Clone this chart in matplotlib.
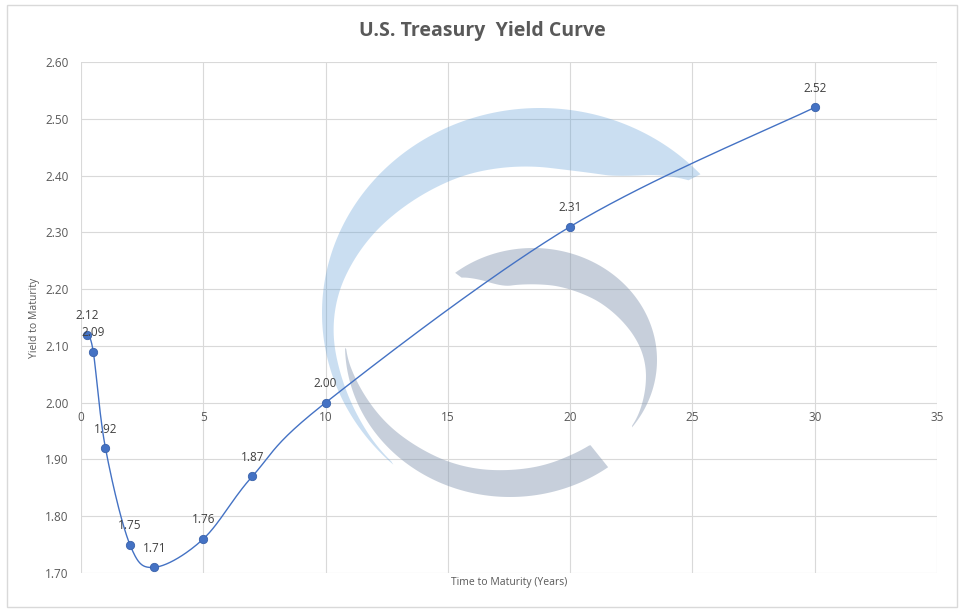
import numpy as np
import matplotlib
matplotlib.use('Agg')
import matplotlib.pyplot as plt
from matplotlib.patches import Polygon, Rectangle

plt.rcParams['font.family'] = ['Open Sans', 'DejaVu Sans']

# data
maturity = [0.25, 0.5, 1, 2, 3, 5, 7, 10, 20, 30]
yields = [2.12, 2.09, 1.92, 1.75, 1.71, 1.76, 1.87, 2.00, 2.31, 2.52]
x_ticks = [0, 5, 10, 15, 20, 25, 30, 35]
y_ticks = [1.70, 1.80, 1.90, 2.00, 2.10, 2.20, 2.30, 2.40, 2.50, 2.60]

W, H = 965, 613
blue = '#4472c4'
txt = '#595959'
grid = '#d9d9d9'


def smooth(ax, xs, ys, n=40):
    # excel-like bezier smoothing, done in screen space
    pts = ax.transData.transform(np.column_stack([xs, ys]))
    p = np.vstack([pts[0], pts, pts[-1]])
    t = np.linspace(0, 1, n)[:, None]
    segs = []
    for i in range(1, len(p) - 2):
        p0, p1, p2, p3 = p[i - 1], p[i], p[i + 1], p[i + 2]
        c1 = p1 + (p2 - p0) / 6
        c2 = p2 - (p3 - p1) / 6
        segs.append((1 - t) ** 3 * p1 + 3 * (1 - t) ** 2 * t * c1
                    + 3 * (1 - t) * t ** 2 * c2 + t ** 3 * p2)
    return ax.transData.inverted().transform(np.vstack(segs))


def crescent(cx, cy, rx, ry, angs, thick):
    # watermark piece, pixel coords (y down) -> figure fraction
    a = np.linspace(min(angs), max(angs), 200)
    order = np.argsort(angs)
    xp = np.array(angs)[order]
    fp = np.array(thick)[order]
    th = np.interp(a, xp, fp)
    k = 12
    th = np.convolve(np.pad(th, k, mode='edge'), np.ones(2 * k + 1) / (2 * k + 1), 'same')[k:-k]
    th[0] = fp[0]
    th[-1] = fp[-1]
    r = np.radians(a)
    outer = np.column_stack([cx + rx * np.cos(r), cy - ry * np.sin(r)])
    s = 1 - th
    inner = np.column_stack([cx + rx * s * np.cos(r), cy - ry * s * np.sin(r)])
    pts = np.vstack([outer, inner[::-1]])
    return np.column_stack([pts[:, 0] / W, 1 - pts[:, 1] / H])


fig = plt.figure(figsize=(W / 100, H / 100), dpi=100)
fig.patches.append(Rectangle((7 / W, 1 - 607 / H), 950 / W, 602 / H,
                             transform=fig.transFigure, fill=False,
                             edgecolor=grid, lw=1))

ax = fig.add_axes([81 / W, 1 - 573 / H, 856 / W, 511 / H])
ax.set_xlim(0, 35)
ax.set_ylim(1.70, 2.60)
ax.set_xticks(x_ticks)
ax.set_yticks(y_ticks)
ax.set_yticklabels(['%.2f' % v for v in y_ticks])
ax.grid(True, color=grid, lw=0.8)
ax.set_axisbelow(True)
for s in ax.spines.values():
    s.set_visible(False)
ax.spines['bottom'].set_position(('data', 2.0))
ax.tick_params(length=0, colors=txt, labelsize=8.5)
ax.tick_params(axis='y', pad=9)
ax.tick_params(axis='x', pad=6)

# watermark
ax.add_patch(Polygon(crescent(540, 313, 218, 205,
                              [42.6, 55, 75, 100, 135, 160, 180, 205, 227.7],
                              [0, 0.22, 0.3, 0.28, 0.21, 0.12, 0.05, 0.035, 0]),
                     transform=fig.transFigure, color='#5b9bd5', alpha=0.32,
                     lw=0, zorder=1))
ax.add_patch(Polygon(crescent(533, 360, 124, 112,
                              [128.9, 115, 90, 60, 30, 0, -20, -37],
                              [0, 0.3, 0.33, 0.3, 0.22, 0.1, 0.05, 0]),
                     transform=fig.transFigure, color='#8496b0', alpha=0.45,
                     lw=0, zorder=1))
ax.add_patch(Polygon(crescent(510, 345, 165, 152,
                              [181, 200, 230, 270, 300, 306.5],
                              [0, 0.06, 0.13, 0.18, 0.19, 0.18]),
                     transform=fig.transFigure, color='#8496b0', alpha=0.45,
                     lw=0, zorder=1))

curve = smooth(ax, maturity, yields)
ax.plot(curve[:, 0], curve[:, 1], color=blue, lw=1, zorder=3)
ax.plot(maturity, yields, 'o', color=blue, ms=6, mec='#3a62aa', mew=0.6, zorder=4)
for x, y in zip(maturity, yields):
    ax.annotate('%.2f' % y, (x, y), xytext=(0, 9), textcoords='offset points',
                ha='center', va='bottom', fontsize=8.5, color='#404040', zorder=5)

ax.set_ylabel('Yield to Maturity', fontsize=7.5, color=txt)
ax.yaxis.set_label_coords(-0.048, 0.5)
ax.text(0.5, -0.008, 'Time to Maturity (Years)', transform=ax.transAxes,
        ha='center', va='top', fontsize=7.5, color=txt)
fig.text(482 / W, 1 - 31 / H, 'U.S. Treasury  Yield Curve', ha='center',
         va='center', fontsize=14, fontweight='bold', color=txt)

fig.savefig('out.png', dpi=100)
